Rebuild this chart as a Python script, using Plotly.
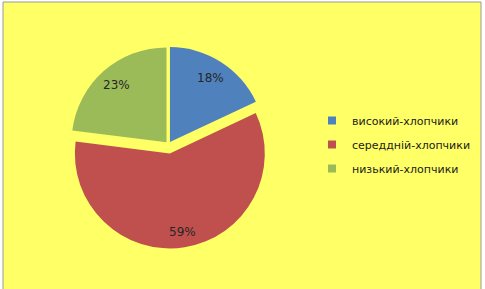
import math
import plotly.graph_objects as go

# Data
categories = ["високий-хлопчики", "середдній-хлопчики", "низький-хлопчики"]
values = [18, 59, 23]
colors = ["#4F81BD", "#C0504D", "#9BBB59"]
pulls = [0.03, 0.095, 0.03]

W, H = 485, 289

# pie placement (pixels)
cx, cy, half = 168.4, 144.5, 104.0
label_radius = [0.80, 0.84, 0.80]

fig = go.Figure()

fig.add_trace(go.Pie(
    labels=categories,
    values=values,
    sort=False,
    direction="clockwise",
    rotation=0,
    pull=pulls,
    marker=dict(colors=colors, line=dict(width=0)),
    textinfo="none",
    showlegend=False,
    hoverinfo="label+percent",
    domain=dict(x=[(cx - half) / W, (cx + half) / W], y=[1 - (cy + half) / H, 1 - (cy - half) / H]),
))

# percentage labels positioned from the slice angles
R = half / (1 + max(pulls))
total = sum(values)
annotations = []
cum = 0
for v, p, f in zip(values, pulls, label_radius):
    theta = 2 * math.pi * (cum + v / 2) / total
    cum += v
    dx, dy = math.sin(theta), -math.cos(theta)
    px = cx + (p + f) * R * dx
    py = cy + (p + f) * R * dy
    annotations.append(dict(
        x=px / W, y=1 - py / H, xref="paper", yref="paper",
        xanchor="center", yanchor="middle",
        text=f"{round(100 * v / total)}%", showarrow=False,
        font=dict(family="DejaVu Sans", size=12, color="#262626"),
    ))

# legend proxies
for name, c in zip(categories, colors):
    fig.add_trace(go.Scatter(
        x=[None], y=[None], mode="markers", name=name, legendgroup=name,
        marker=dict(symbol="square", size=8, color=c, line=dict(width=0)),
    ))

shapes = [
    dict(type="rect", xref="paper", yref="paper", x0=0, x1=3 / W, y0=0, y1=1,
         fillcolor="white", line=dict(width=0), layer="above"),
    dict(type="rect", xref="paper", yref="paper", x0=481 / W, x1=1, y0=0, y1=1,
         fillcolor="white", line=dict(width=0), layer="above"),
    dict(type="rect", xref="paper", yref="paper", x0=0, x1=1, y0=1 - 2 / H, y1=1,
         fillcolor="white", line=dict(width=0), layer="above"),
    dict(type="rect", xref="paper", yref="paper", x0=3 / W, x1=481 / W, y0=-0.01, y1=1 - 2 / H,
         fillcolor="rgba(0,0,0,0)", line=dict(width=1, color="#9a9a9a"), layer="above"),
]

fig.update_layout(
    width=W, height=H,
    margin=dict(l=0, r=0, t=0, b=0),
    paper_bgcolor="#FFFF66",
    plot_bgcolor="rgba(0,0,0,0)",
    xaxis=dict(visible=False),
    yaxis=dict(visible=False),
    shapes=shapes,
    annotations=annotations,
    showlegend=True,
    legend=dict(
        x=312 / W, y=1 - 106 / H, xanchor="left", yanchor="top",
        bgcolor="rgba(0,0,0,0)",
        font=dict(family="DejaVu Sans", size=11, color="#1a1a1a"),
        tracegroupgap=5,
        traceorder="grouped",
    ),
)

fig.write_html("out.html")
